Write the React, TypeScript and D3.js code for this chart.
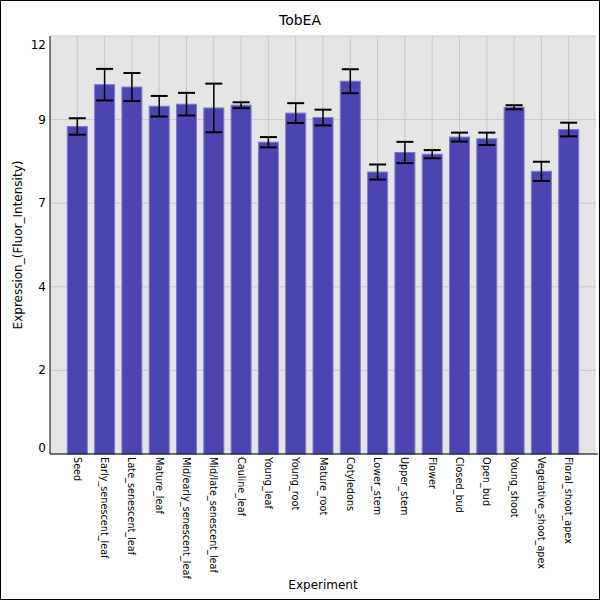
import React from 'react';
import * as d3 from 'd3';

const categories = [
  'Seed', 'Early_senescent_leaf', 'Late_senescent_leaf', 'Mature_leaf',
  'Mid/early_senescent_leaf', 'Mid/late_senescent_leaf', 'Cauline_leaf',
  'Young_leaf', 'Young_root', 'Mature_root', 'Cotyledons', 'Lower_stem',
  'Upper_stem', 'Flower', 'Closed_bud', 'Open_bud', 'Young_shoot',
  'Vegetative_shoot_apex', 'Floral_shoot_apex',
];
const values = [
  9.56, 10.78, 10.71, 10.15, 10.21, 10.1, 10.18, 9.1, 9.95, 9.82, 10.88,
  8.23, 8.8, 8.75, 9.25, 9.2, 10.12, 8.25, 9.47,
];
const errors = [
  0.24, 0.46, 0.41, 0.3, 0.33, 0.71, 0.085, 0.15, 0.29, 0.23, 0.35,
  0.22, 0.31, 0.12, 0.13, 0.18, 0.06, 0.28, 0.2,
];
const yMax = 12.2;
const tickCount = 5;

const W = 600;
const H = 600;
const margin = { top: 36, right: 4, bottom: 146, left: 50 };

export default function App(): React.ReactElement {
  const x0 = margin.left;
  const x1 = W - margin.right;
  const y0 = H - margin.bottom;
  const y1 = margin.top;

  const x = d3.scalePoint<string>().domain(categories).range([x0, x1]).padding(1);
  const y = d3.scaleLinear().domain([0, yMax]).range([y0, y1]);
  const ticks = d3.range(tickCount + 1).map(i => (yMax * i) / tickCount);
  const barW = 20;
  const capW = 17;

  return (
    <svg width={W} height={H} style={{ position: 'absolute', left: 0, top: 0, fontFamily: 'DejaVu Sans' }}>
      <rect x={0} y={0} width={W} height={H} fill="#fff" />
      <rect x={x0} y={y1} width={x1 - x0} height={y0 - y1} fill="#e5e5e5" />
      {ticks.map((t, i) => (
        <line key={'hg' + i} x1={x0} x2={x1} y1={y(t)} y2={y(t)} stroke="#c9c9c9" strokeWidth={1} />
      ))}
      {categories.map(c => (
        <line key={'vg' + c} x1={x(c)} x2={x(c)} y1={y1} y2={y0} stroke="#c9c9c9" strokeWidth={1} />
      ))}
      {categories.map((c, i) => (
        <rect
          key={'b' + c}
          x={(x(c) as number) - barW / 2}
          y={y(values[i])}
          width={barW}
          height={y0 - y(values[i])}
          fill="#4a45b0"
          stroke="#7f7bcc"
          strokeWidth={1}
        />
      ))}
      {categories.map((c, i) => {
        const cx = x(c) as number;
        const hi = y(values[i] + errors[i]);
        const lo = y(values[i] - errors[i]);
        return (
          <g key={'e' + c} stroke="#000">
            <line x1={cx} x2={cx} y1={hi} y2={lo} strokeWidth={1.5} />
            <line x1={cx - capW / 2} x2={cx + capW / 2} y1={hi} y2={hi} strokeWidth={2} />
            <line x1={cx - capW / 2} x2={cx + capW / 2} y1={lo} y2={lo} strokeWidth={2} />
          </g>
        );
      })}
      <line x1={x0} x2={x0} y1={y1} y2={y0} stroke="#000" strokeWidth={1} />
      <line x1={x0} x2={x1 + 2} y1={y0} y2={y0} stroke="#000" strokeWidth={1} />
      {ticks.map((t, i) => {
        const py = y(t);
        const ty = i === 0 ? py - 6 : i === tickCount ? py + 9 : py;
        return (
          <text key={'yt' + i} x={46} y={ty} textAnchor="end" dominantBaseline="central" fontSize={12} fill="#000">
            {Math.floor(t)}
          </text>
        );
      })}
      {categories.map(c => (
        <text
          key={'xt' + c}
          transform={`translate(${x(c) as number},${y0 + 3}) rotate(90)`}
          textAnchor="start"
          dominantBaseline="central"
          fontSize={9.7}
          fill="#000"
        >
          {c}
        </text>
      ))}
      <text x={300} y={25} textAnchor="middle" fontSize={14} fill="#000">TobEA</text>
      <text x={(x0 + x1) / 2} y={589} textAnchor="middle" fontSize={12} fill="#000">Experiment</text>
      <text
        transform={`translate(22,${(y0 + y1) / 2}) rotate(-90)`}
        textAnchor="middle"
        fontSize={12}
        fill="#000"
      >
        Expression_(Fluor_Intensity)
      </text>
      <rect x={0.5} y={0.5} width={W - 1} height={H - 1} fill="none" stroke="#000" strokeWidth={1} />
    </svg>
  );
}
